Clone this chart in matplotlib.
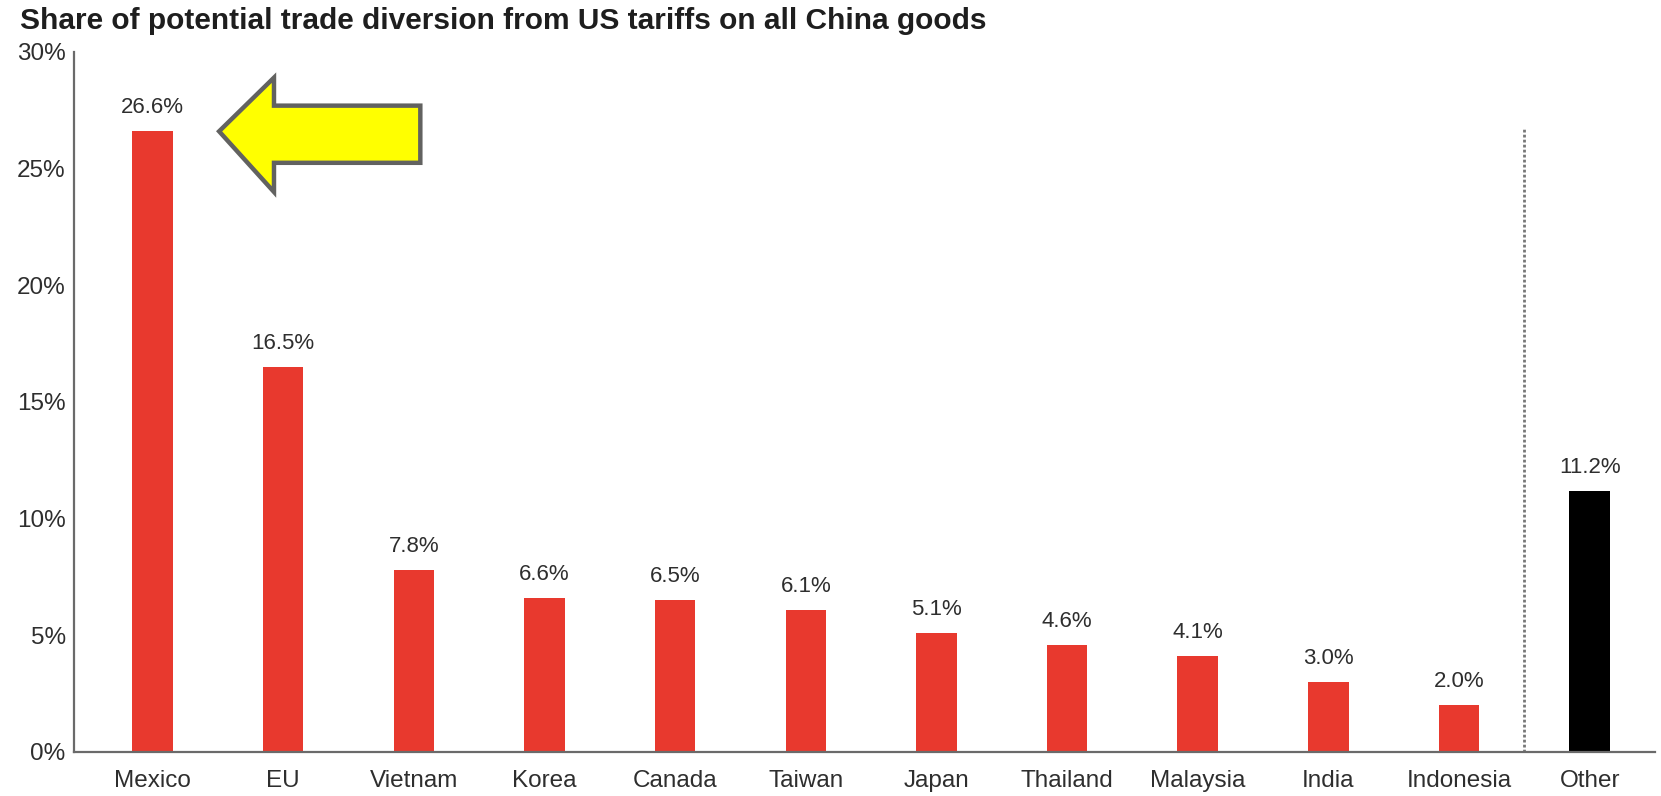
import matplotlib
matplotlib.use("Agg")
import matplotlib.pyplot as plt
from matplotlib.patches import Polygon
from matplotlib.ticker import FuncFormatter

categories = ["Mexico", "EU", "Vietnam", "Korea", "Canada", "Taiwan", "Japan",
              "Thailand", "Malaysia", "India", "Indonesia", "Other"]
values = [26.6, 16.5, 7.8, 6.6, 6.5, 6.1, 5.1, 4.6, 4.1, 3.0, 2.0, 11.2]
bar_colors = ["#E8392E"] * 11 + ["#000000"]
y_ticks = [0, 5, 10, 15, 20, 25, 30]
title = "Share of potential trade diversion from US tariffs on all China goods"

plt.rcParams['font.family'] = ['Liberation Sans', 'DejaVu Sans']

fig = plt.figure(figsize=(16.61, 7.96), dpi=100)
ax = fig.add_axes([0.0446, 0.0553, 0.9518, 0.8794])

x = list(range(len(categories)))
ax.bar(x, values, width=0.31, color=bar_colors, zorder=2)

for xi, v in zip(x, values):
    ax.annotate(f"{v:.1f}%", (xi, v), xytext=(0, 13), textcoords="offset points",
                ha="center", va="baseline", fontsize=16, color="#2e2e2e")

ax.set_xlim(-0.6, 11.5)
ax.set_ylim(0, 30)
ax.set_yticks(y_ticks)
ax.yaxis.set_major_formatter(FuncFormatter(lambda v, p: f"{v:.0f}%"))
ax.set_xticks(x)
ax.set_xticklabels(categories)
ax.tick_params(axis="both", length=0, labelsize=17.5, colors="#2e2e2e")
ax.tick_params(axis="x", pad=13)
ax.tick_params(axis="y", pad=6)

for s in ["top", "right"]:
    ax.spines[s].set_visible(False)
for s in ["left", "bottom"]:
    ax.spines[s].set_color("#6a6a6a")
    ax.spines[s].set_linewidth(1.6)

# dotted separator before "Other"
ax.plot([10.5, 10.5], [0, 26.8], linestyle=(0, (1, 0.8)), color="#777777", lw=2, zorder=1)

# yellow arrow pointing at Mexico bar
tip_x, tip_y = 0.51, values[0]
pts = [
    (tip_x, tip_y),
    (tip_x + 0.42, tip_y + 2.3),
    (tip_x + 0.42, tip_y + 1.1),
    (tip_x + 1.54, tip_y + 1.1),
    (tip_x + 1.54, tip_y - 1.35),
    (tip_x + 0.42, tip_y - 1.35),
    (tip_x + 0.42, tip_y - 2.6),
]
ax.add_patch(Polygon(pts, closed=True, facecolor="#FFFF00", edgecolor="#626260",
                     lw=3.2, joinstyle="miter", zorder=5, clip_on=False))

fig.text(0.012, 0.974, title, fontsize=21.5, fontweight="bold", color="#1e1e1e",
         ha="left", va="center")

fig.savefig("out.png", dpi=100)
